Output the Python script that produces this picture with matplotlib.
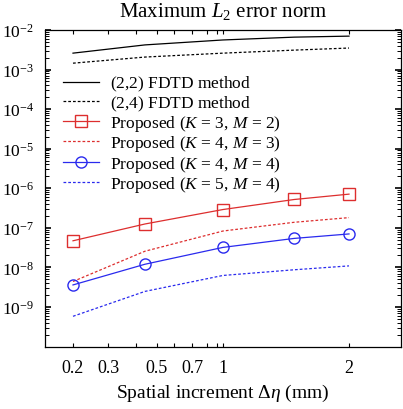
import numpy as np
import matplotlib
matplotlib.use("Agg")
import matplotlib.pyplot as plt
from matplotlib.ticker import FixedLocator, FixedFormatter, LogLocator, LogFormatterMathtext, NullFormatter

plt.rcParams['font.family'] = ['Liberation Serif', 'DejaVu Serif']
plt.rcParams['mathtext.fontset'] = 'custom'
plt.rcParams['mathtext.rm'] = 'Liberation Serif'
plt.rcParams['mathtext.it'] = 'Liberation Serif:italic'
plt.rcParams['mathtext.bf'] = 'Liberation Serif:bold'

# ---- data ----
dx = [0.2, 0.44, 1.0, 1.48, 2.0]
fdtd22 = [2.6e-3, 4.2e-3, 5.6e-3, 6.6e-3, 7.0e-3]
fdtd24 = [1.45e-3, 2.07e-3, 2.6e-3, 3.1e-3, 3.5e-3]
k3m2 = [4.7e-8, 1.25e-7, 2.9e-7, 5.2e-7, 7.1e-7]
k4m3 = [4.4e-9, 2.56e-8, 8.3e-8, 1.38e-7, 1.81e-7]
k4m4 = [3.6e-9, 1.2e-8, 3.2e-8, 5.4e-8, 7.0e-8]
k5m4 = [5.8e-10, 2.47e-9, 6.25e-9, 8.7e-9, 1.09e-8]

xtick_vals = [0.2, 0.3, 0.4, 0.5, 0.6, 0.7, 0.8, 0.9, 1.0, 2.0]
xtick_labels = ['0.2', '0.3', '', '0.5', '', '0.7', '', '', '1', '2']

# axis mapping (non-uniform x axis as drawn in the original)
scale_vals = np.log10([0.145, 0.2, 0.3, 0.4, 0.5, 0.6, 0.7, 0.8, 0.9, 1.0, 2.0, 2.66])
scale_pos = np.array([45, 73, 108, 136, 157, 174, 192, 207, 217, 223, 349, 401], dtype=float)

def fwd(x):
    x = np.asarray(x, dtype=float)
    lx = np.log10(np.clip(x, 1e-6, None))
    return np.interp(lx, scale_vals, scale_pos, left=scale_pos[0] - 1000, right=scale_pos[-1] + 1000)

def inv(p):
    p = np.asarray(p, dtype=float)
    return 10 ** np.interp(p, scale_pos, scale_vals)

W, H = 403, 410
fig = plt.figure(figsize=(W / 100, H / 100), dpi=100)
ax = fig.add_axes([45 / W, 1 - 347.5 / H, (401 - 45) / W, (347.5 - 31) / H])
ax.set_xscale('function', functions=(fwd, inv))
ax.set_yscale('log')

red = '#dd2e2e'
blue = '#2a2aee'
ax.plot(dx, fdtd22, color='black', lw=0.9, label=r'$\mathrm{(2{,}2)\ FDTD\ method}$')
ax.plot(dx, fdtd24, color='black', lw=0.9, ls=(0, (2.2, 1.6)), label=r'$\mathrm{(2{,}4)\ FDTD\ method}$')
ax.plot(dx, k3m2, color=red, lw=0.9, marker='s', ms=8, mfc='none', mec=red, mew=1.0,
        label=r'Proposed ($K$ = 3, $M$ = 2)')
ax.plot(dx, k4m3, color=red, lw=0.9, ls=(0, (2.2, 1.6)), label=r'Proposed ($K$ = 4, $M$ = 3)')
ax.plot(dx, k4m4, color=blue, lw=0.9, marker='o', ms=8, mfc='none', mec=blue, mew=1.0,
        label=r'Proposed ($K$ = 4, $M$ = 4)')
ax.plot(dx, k5m4, color=blue, lw=0.9, ls=(0, (2.2, 1.6)), label=r'Proposed ($K$ = 5, $M$ = 4)')

ax.set_xlim(0.145, 2.66)
ax.set_ylim(1e-10, 1e-2)

ax.xaxis.set_major_locator(FixedLocator(xtick_vals))
ax.xaxis.set_major_formatter(FixedFormatter(xtick_labels))
ax.xaxis.set_minor_locator(FixedLocator([]))
ax.yaxis.set_major_locator(FixedLocator([1e-2, 1e-3, 1e-4, 1e-5, 1e-6, 1e-7, 1e-8, 1e-9]))
ax.yaxis.set_major_formatter(LogFormatterMathtext())
ax.yaxis.set_minor_locator(LogLocator(base=10, subs=np.arange(2, 10), numticks=20))
ax.yaxis.set_minor_formatter(NullFormatter())

ax.tick_params(axis='x', which='both', direction='in', top=True, bottom=True, length=3, width=0.8,
               labelsize=13, pad=9)
ax.tick_params(axis='y', which='major', direction='in', left=True, right=True, length=4, width=1.2,
               labelsize=12.5, pad=8)
ax.tick_params(axis='y', which='minor', direction='in', left=True, right=True, length=3, width=0.7)
for s in ax.spines.values():
    s.set_linewidth(0.9)

ax.set_title(r'Maximum $L_2$ error norm', fontsize=15, pad=10)
ax.set_xlabel(r'Spatial increment $\Delta\eta$ (mm)', fontsize=14, labelpad=4)

ax.legend(loc='upper left', bbox_to_anchor=(63 / W, 1 - 75 / H), bbox_transform=fig.transFigure,
          frameon=False, fontsize=12.5, handlelength=2.1, handletextpad=0.6, labelspacing=0.02,
          borderpad=0, borderaxespad=0, numpoints=1)

fig.savefig('out.png', dpi=100)
